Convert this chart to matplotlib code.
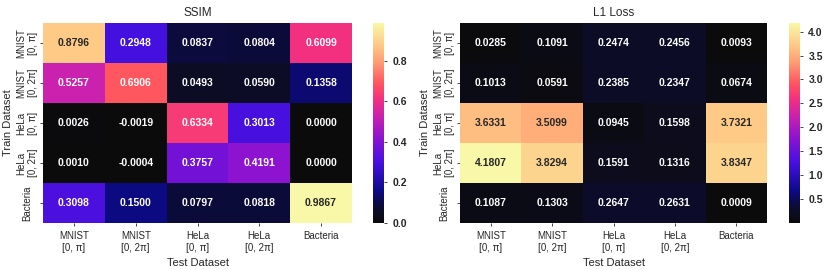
import numpy as np
import matplotlib
matplotlib.use("Agg")
import matplotlib.pyplot as plt
import seaborn as sns
from matplotlib.colors import LinearSegmentedColormap

# Data.
datasets = ["MNIST\n[0, π]", "MNIST\n[0, 2π]", "HeLa\n[0, π]", "HeLa\n[0, 2π]", "Bacteria"]

ssim = np.array([
    [0.8796, 0.2948, 0.0837, 0.0804, 0.6099],
    [0.5257, 0.6906, 0.0493, 0.0590, 0.1358],
    [0.0026, -0.0019, 0.6334, 0.3013, 0.0000],
    [0.0010, -0.0004, 0.3757, 0.4191, 0.0000],
    [0.3098, 0.1500, 0.0797, 0.0818, 0.9867],
])

l1_loss = np.array([
    [0.0285, 0.1091, 0.2474, 0.2456, 0.0093],
    [0.1013, 0.0591, 0.2385, 0.2347, 0.0674],
    [3.6331, 3.5099, 0.0945, 0.1598, 3.7321],
    [4.1807, 3.8294, 0.1591, 0.1316, 3.8347],
    [0.1087, 0.1303, 0.2647, 0.2631, 0.0009],
])

# colormap approximating the one in the figure
cmap = LinearSegmentedColormap.from_list("heat", [
    (0.00, "#0b0b0b"),
    (0.06, "#0c0c28"),
    (0.10, "#0b0b48"),
    (0.16, "#0c0a88"),
    (0.30, "#4410e0"),
    (0.42, "#8a12d2"),
    (0.53, "#c820b0"),
    (0.62, "#f33080"),
    (0.70, "#ff5560"),
    (0.80, "#ff9a72"),
    (0.89, "#ffc885"),
    (1.00, "#f8f8a8"),
])

sns.set_style("ticks")
plt.rcParams["font.family"] = ["Liberation Sans", "DejaVu Sans"]
plt.rcParams["font.size"] = 7

fig = plt.figure(figsize=(8.3, 2.7), dpi=100)
ax1 = fig.add_axes([43 / 830, 47 / 270, 309 / 830, 200 / 270])
cax1 = fig.add_axes([373 / 830, 47 / 270, 11 / 830, 200 / 270])
ax2 = fig.add_axes([460 / 830, 47 / 270, 307 / 830, 200 / 270])
cax2 = fig.add_axes([789 / 830, 47 / 270, 11 / 830, 200 / 270])

for ax, cax, data, title in [(ax1, cax1, ssim, "SSIM"), (ax2, cax2, l1_loss, "L1 Loss")]:
    sns.heatmap(data, ax=ax, cbar_ax=cax, cmap=cmap, annot=True, fmt=".4f",
                annot_kws={"fontsize": 7.5, "fontweight": "bold"},
                xticklabels=datasets, yticklabels=datasets)
    ax.set_title(title, fontsize=8.5, pad=5)
    ax.set_xlabel("Test Dataset", fontsize=8)
    ax.set_ylabel("Train Dataset", fontsize=8, labelpad=2)
    ax.tick_params(axis="both", labelsize=7, length=2.5, width=0.6)
    plt.setp(ax.get_xticklabels(), rotation=0, ha="center")
    plt.setp(ax.get_yticklabels(), rotation=90, va="center", ha="center", multialignment="center")
    ax.yaxis.set_tick_params(pad=9)
    cax.tick_params(labelsize=7.5, length=2.5, width=0.6)
    for t in cax.get_yticklabels():
        t.set_fontweight("bold")
    cax.set_frame_on(False)

fig.savefig("out.png", dpi=100)
